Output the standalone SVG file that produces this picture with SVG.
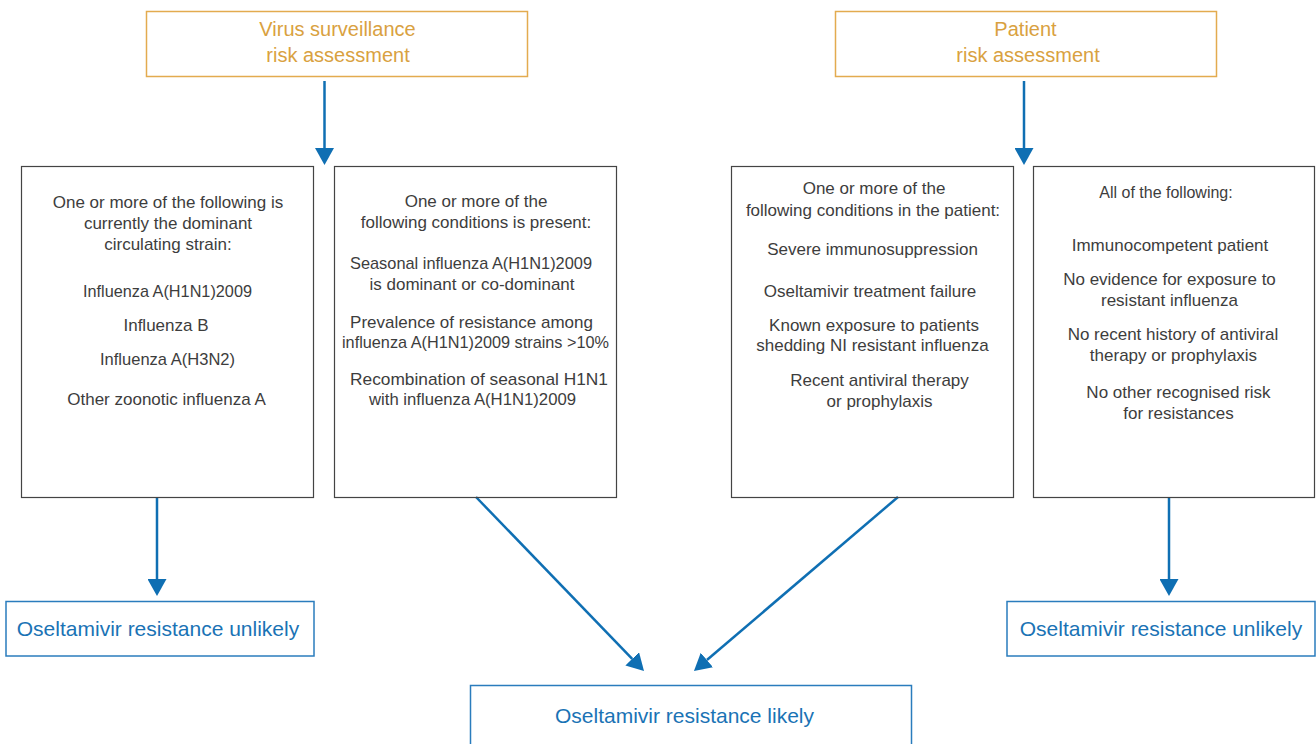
<svg xmlns="http://www.w3.org/2000/svg" width="1316" height="744" viewBox="0 0 1316 744">
<style>
.hdr{fill:none;stroke:#e3ab4f;stroke-width:1.5}
.htx{fill:#d9a140;font-family:"Liberation Sans",Arial,sans-serif;font-size:20px;text-anchor:middle}
.box{fill:none;stroke:#444;stroke-width:1.2}
.tx{fill:#3d3d3d;font-family:"Liberation Sans",Arial,sans-serif;font-size:17px;text-anchor:middle}
.tx16{font-size:16px}
.res{fill:none;stroke:#2a7cbd;stroke-width:1.5}
.rtx{fill:#1a73b5;font-family:"Liberation Sans",Arial,sans-serif;font-size:21px;text-anchor:middle}
.con{stroke:#0f6fb3;stroke-width:2.5;fill:none}
</style>
<defs>
<marker id="ah" markerUnits="userSpaceOnUse" markerWidth="17" markerHeight="19" refX="0" refY="9.5" orient="auto" viewBox="0 0 17 19">
<path d="M0,0 L17,9.5 L0,19 z" fill="#0f6fb3"/>
</marker>
</defs>
<rect width="1316" height="744" fill="#fff"/>
<g id="connectors">
<line class="con" x1="324.5" y1="81" x2="324.5" y2="148" marker-end="url(#ah)"/>
<line class="con" x1="1024" y1="81" x2="1024" y2="148" marker-end="url(#ah)"/>
<line class="con" x1="157" y1="497" x2="157" y2="579" marker-end="url(#ah)"/>
<line class="con" x1="1169" y1="497" x2="1169" y2="579" marker-end="url(#ah)"/>
<line class="con" x1="476" y1="497" x2="632.2" y2="658.8" marker-end="url(#ah)"/>
<line class="con" x1="898" y1="497" x2="706.9" y2="660" marker-end="url(#ah)"/>
</g>
<g id="virus-risk">
<rect class="hdr" x="146.5" y="11.5" width="381" height="65"/>
<text class="htx" x="337.5" y="36">Virus surveillance</text>
<text class="htx" x="338" y="62">risk assessment</text>
</g>
<g id="patient-risk">
<rect class="hdr" x="835.5" y="11.5" width="381" height="65"/>
<text class="htx" x="1025.5" y="36">Patient</text>
<text class="htx" x="1028" y="62">risk assessment</text>
</g>
<g id="box-dominant">
<rect class="box" x="21.5" y="166.5" width="292" height="331"/>
<text class="tx" x="168" y="208">One or more of the following is</text>
<text class="tx" x="168" y="229">currently the dominant</text>
<text class="tx" x="168" y="250">circulating strain:</text>
<text class="tx" x="167.5" y="297" textLength="169" lengthAdjust="spacingAndGlyphs">Influenza A(H1N1)2009</text>
<text class="tx" x="166" y="330.5">Influenza B</text>
<text class="tx" x="167.5" y="365" textLength="135" lengthAdjust="spacingAndGlyphs">Influenza A(H3N2)</text>
<text class="tx" x="166.5" y="404.5">Other zoonotic influenza A</text>
</g>
<g id="box-conditions">
<rect class="box" x="334.5" y="166.5" width="282" height="331"/>
<text class="tx" x="476" y="206.5">One or more of the</text>
<text class="tx" x="476" y="227.5">following conditions is present:</text>
<text class="tx" x="471" y="269" textLength="242" lengthAdjust="spacingAndGlyphs">Seasonal influenza A(H1N1)2009</text>
<text class="tx" x="472" y="290">is dominant or co-dominant</text>
<text class="tx" x="471.5" y="327.5">Prevalence of resistance among</text>
<text class="tx" x="475.5" y="347.5" textLength="267" lengthAdjust="spacingAndGlyphs">influenza A(H1N1)2009 strains &gt;10%</text>
<text class="tx" x="479" y="385" textLength="258" lengthAdjust="spacingAndGlyphs">Recombination of seasonal H1N1</text>
<text class="tx" x="472.5" y="405" textLength="207" lengthAdjust="spacingAndGlyphs">with influenza A(H1N1)2009</text>
</g>
<g id="box-patient">
<rect class="box" x="731.5" y="166.5" width="282" height="331"/>
<text class="tx" x="874" y="194">One or more of the</text>
<text class="tx" x="873" y="215.5">following conditions in the patient:</text>
<text class="tx" x="872.5" y="255">Severe immunosuppression</text>
<text class="tx" x="870" y="297">Oseltamivir treatment failure</text>
<text class="tx" x="874" y="330.5">Known exposure to patients</text>
<text class="tx" x="872.5" y="351">shedding NI resistant influenza</text>
<text class="tx" x="879.5" y="386">Recent antiviral therapy</text>
<text class="tx" x="879.5" y="406.5">or prophylaxis</text>
</g>
<g id="box-all">
<rect class="box" x="1033.5" y="166.5" width="281" height="331"/>
<text class="tx tx16" x="1166" y="198">All of the following:</text>
<text class="tx" x="1170" y="251">Immunocompetent patient</text>
<text class="tx" x="1169.5" y="285">No evidence for exposure to</text>
<text class="tx" x="1169.5" y="306">resistant influenza</text>
<text class="tx" x="1173" y="340">No recent history of antiviral</text>
<text class="tx" x="1173.5" y="361">therapy or prophylaxis</text>
<text class="tx" x="1178.5" y="398">No other recognised risk</text>
<text class="tx" x="1178.5" y="419">for resistances</text>
</g>
<g id="unlikely-left">
<rect class="res" x="6" y="601.5" width="308" height="54.5"/>
<text class="rtx" x="158" y="636">Oseltamivir resistance unlikely</text>
</g>
<g id="unlikely-right">
<rect class="res" x="1007" y="601.5" width="308" height="54.5"/>
<text class="rtx" x="1161" y="636">Oseltamivir resistance unlikely</text>
</g>
<g id="likely">
<rect class="res" x="470.5" y="685.5" width="441" height="70"/>
<text class="rtx" x="684.5" y="723">Oseltamivir resistance likely</text>
</g>
</svg>
